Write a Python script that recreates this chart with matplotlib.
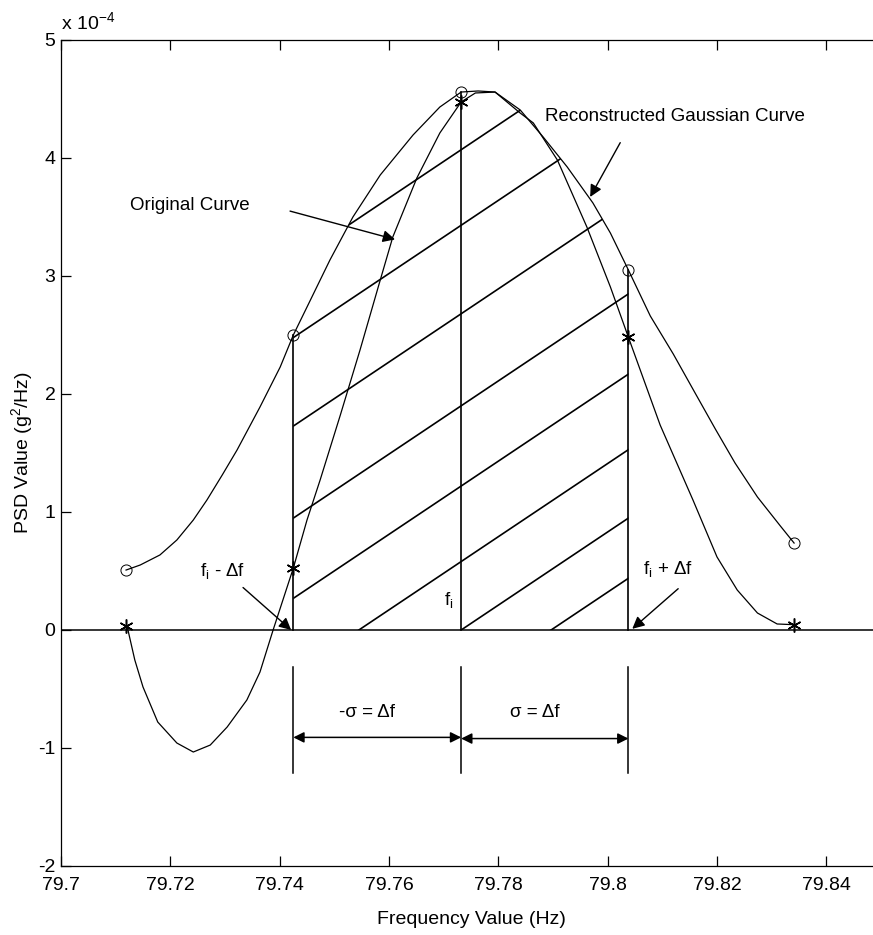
import numpy as np
import matplotlib
matplotlib.use('Agg')
import matplotlib.pyplot as plt
from matplotlib.patches import Polygon

plt.rcParams['font.family'] = ['Liberation Sans', 'DejaVu Sans']
plt.rcParams['mathtext.fontset'] = 'custom'
plt.rcParams['mathtext.rm'] = 'Liberation Sans'
plt.rcParams['mathtext.it'] = 'Liberation Sans'
plt.rcParams['axes.unicode_minus'] = False

# PSD values are in units of 1e-4 g^2/Hz

# reconstructed gaussian curve
gauss_f = [79.7119, 79.7145, 79.7181, 79.7212, 79.7242, 79.7267, 79.7295, 79.7322,
           79.7364, 79.7401, 79.7425, 79.7450, 79.7492, 79.7534, 79.7584, 79.7644,
           79.7693, 79.7732, 79.7763, 79.7794, 79.7840, 79.7882, 79.7926, 79.7973,
           79.8005, 79.8038, 79.8078, 79.8120, 79.8160, 79.8197, 79.8233, 79.8274,
           79.8316, 79.8341]
gauss_p = [0.508, 0.551, 0.636, 0.763, 0.932, 1.102, 1.314, 1.525,
           1.890, 2.229, 2.500, 2.737, 3.136, 3.500, 3.856, 4.195,
           4.432, 4.559, 4.568, 4.559, 4.407, 4.178, 3.924, 3.619,
           3.364, 3.050, 2.661, 2.339, 2.008, 1.703, 1.415, 1.127,
           0.881, 0.737]

# original curve
orig_f = [79.7121, 79.7135, 79.7150, 79.7177, 79.7212, 79.7242, 79.7273, 79.7304,
          79.7340, 79.7364, 79.7388, 79.7425, 79.7450, 79.7474, 79.7511, 79.7547,
          79.7584, 79.7607, 79.7651, 79.7693, 79.7732, 79.7758, 79.7794, 79.7840,
          79.7864, 79.7908, 79.7962, 79.8005, 79.8038, 79.8096, 79.8156, 79.8200,
          79.8237, 79.8274, 79.8310, 79.8341]
orig_p = [0.030, -0.254, -0.483, -0.780, -0.958, -1.034, -0.975, -0.822,
          -0.593, -0.356, 0.000, 0.525, 0.932, 1.271, 1.822, 2.373,
          2.966, 3.331, 3.831, 4.212, 4.475, 4.551, 4.559, 4.381,
          4.297, 3.983, 3.415, 2.907, 2.480, 1.737, 1.102, 0.619,
          0.339, 0.144, 0.051, 0.045]

# sample points
pt_f = [79.7119, 79.7425, 79.7732, 79.8038, 79.8341]
circ_p = [0.508, 2.50, 4.56, 3.05, 0.74]
star_p = [0.03, 0.525, 4.475, 2.48, 0.045]

f_lo, f_c, f_hi = 79.7425, 79.7732, 79.8038

# hatch lines: value where each crosses f_i, and common slope
hatch_off = [4.07, 3.43, 2.68, 1.90, 1.22, 0.58, 0.0, -0.51]
hatch_slope = 31.0

xticks = [79.7, 79.72, 79.74, 79.76, 79.78, 79.8, 79.82, 79.84]
xtick_labels = ['79.7', '79.72', '79.74', '79.76', '79.78', '79.8', '79.82', '79.84']
yticks = [-2, -1, 0, 1, 2, 3, 4, 5]

W, H = 873, 935
fig = plt.figure(figsize=(W / 100, H / 100), dpi=100)
ax = fig.add_axes([61 / W, 1 - 866 / H, (881 - 61) / W, (866 - 40) / H])

lw = 0.9
ax.axhline(0, color='k', lw=1.1)
ax.plot(gauss_f, gauss_p, color='k', lw=lw)
ax.plot(orig_f, orig_p, color='k', lw=lw)
ax.plot(pt_f, circ_p, ls='none', marker='o', ms=8, mfc='none', mec='k', mew=0.7)
ax.plot(pt_f, star_p, ls='none', marker=(6, 2, 0), ms=10, mec='k', mew=1.1)

# vertical boundaries of the shaded region
for f, top in zip([f_lo, f_c, f_hi], [circ_p[1], circ_p[2], circ_p[3]]):
    ax.plot([f, f], [0, top], color='k', lw=1.2)

# hatching clipped to the area under the gaussian curve
gf = np.array(gauss_f)
gp = np.array(gauss_p)
m = (gf >= f_lo) & (gf <= f_hi)
poly = np.column_stack([np.r_[f_lo, gf[m], f_hi], np.r_[0, gp[m], 0]])
clip = Polygon(poly, closed=True, facecolor='none', edgecolor='none', transform=ax.transData)
ax.add_patch(clip)
hx = np.array([f_lo, f_hi])
for off in hatch_off:
    ln, = ax.plot(hx, off + hatch_slope * (hx - f_c), color='k', lw=1.2)
    ln.set_clip_path(clip)

# dimension lines under the axis
for f in [f_lo, f_c, f_hi]:
    ax.plot([f, f], [-0.31, -1.21], color='k', lw=1.1)
dim_arrow = dict(arrowstyle='<|-|>', color='k', lw=1.1, mutation_scale=16,
                 shrinkA=0, shrinkB=0)
ax.annotate('', xy=(f_c, -0.91), xytext=(f_lo, -0.91), arrowprops=dim_arrow)
ax.annotate('', xy=(f_hi, -0.92), xytext=(f_c, -0.92), arrowprops=dim_arrow)
fs = 13.5
ax.text(79.7560, -0.70, '-σ = Δf', fontsize=fs, ha='center', va='center')
ax.text(79.7866, -0.70, 'σ = Δf', fontsize=fs, ha='center', va='center')

arrow = dict(arrowstyle='-|>', color='k', lw=1.0, mutation_scale=18,
             shrinkA=0, shrinkB=0)
ax.text(79.7126, 3.60, 'Original Curve', fontsize=fs, ha='left', va='center')
ax.annotate('', xy=(79.7611, 3.31), xytext=(79.7419, 3.55), arrowprops=arrow)
ax.text(79.7886, 4.35, 'Reconstructed Gaussian Curve', fontsize=fs, ha='left', va='center')
ax.annotate('', xy=(79.7968, 3.67), xytext=(79.8023, 4.13), arrowprops=arrow)
ax.text(79.7254, 0.50, r'$\mathregular{f_i}$ - Δf', fontsize=fs, ha='left', va='center')
ax.annotate('', xy=(79.7421, 0.0), xytext=(79.7333, 0.36), arrowprops=arrow)
ax.text(79.8065, 0.52, r'$\mathregular{f_i}$ + Δf', fontsize=fs, ha='left', va='center')
ax.annotate('', xy=(79.8045, 0.01), xytext=(79.8129, 0.35), arrowprops=arrow)
ax.text(79.7718, 0.25, r'$\mathregular{f_i}$', fontsize=fs, ha='right', va='center')

ax.set_xlim(79.7, 79.85)
ax.set_ylim(-2, 5)
ax.set_xticks(xticks)
ax.set_xticklabels(xtick_labels)
ax.set_yticks(yticks)
ax.tick_params(direction='in', length=7, width=0.9, labelsize=14,
               top=True, right=False)
ax.tick_params(axis='x', pad=8)
ax.tick_params(axis='y', pad=4)
for s in ax.spines.values():
    s.set_linewidth(0.9)

ax.text(0.0, 1.008, r'x 10$^{\mathregular{-4}}$', transform=ax.transAxes,
        fontsize=14, ha='left', va='bottom')
ax.set_xlabel('Frequency Value (Hz)', fontsize=14, labelpad=12)
ax.set_ylabel(r'PSD Value (g$^{\mathregular{2}}$/Hz)', fontsize=14, labelpad=2)

fig.savefig('out.png', dpi=100)
